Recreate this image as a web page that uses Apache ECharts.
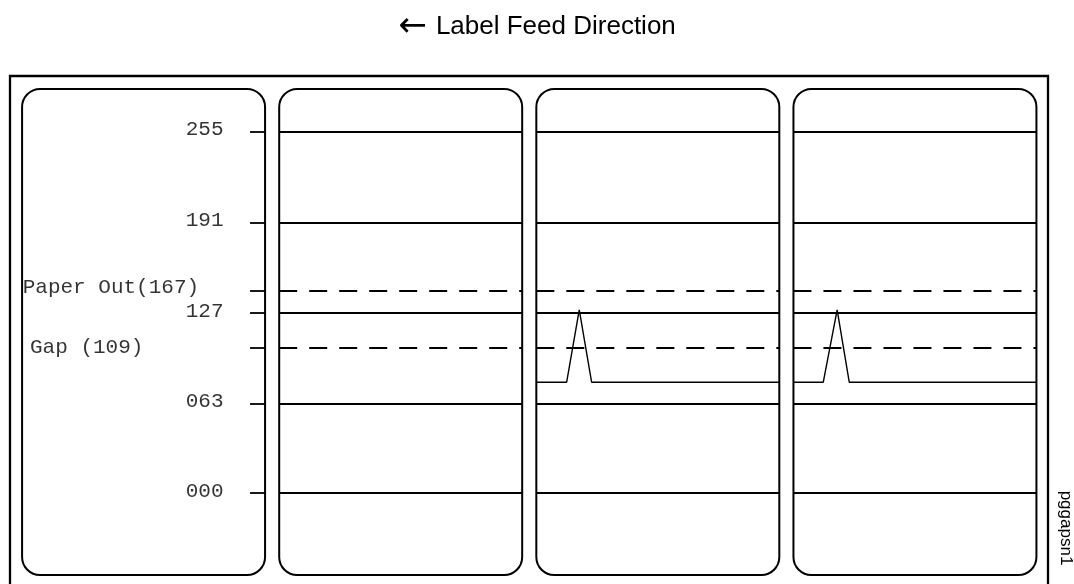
<!DOCTYPE html>
<html>
<head>
<meta charset="utf-8">
<script src="https://cdn.jsdelivr.net/npm/echarts@6/dist/echarts.min.js"></script>
<style>html,body{margin:0;padding:0;background:#fff}#chart{width:1074px;height:584px}</style>
</head>
<body>
<div id="chart"></div>
<script>
// ---- data (schematic units) ----
const levelLabels = ['255', '191', '127', '063', '000'];
const levelValues = [255, 191, 127, 63, 0];
const thresholdLabels = ['Paper Out(167)', 'Gap (109)'];
const thresholdValues = [142.6, 102.5];          // schematic drawing position of each threshold
const panelStart = [0, 100, 200, 300];            // four labels along the feed
const signal3X = [200, 211.8, 216.7, 221.5, 294.5];
const signal3Y = [78.2, 78.2, 129.2, 78.2, 78.2];
const signal4X = [300, 311.6, 317, 321.7, 394.5];
const signal4Y = [78.2, 78.2, 129.2, 78.2, 78.2];

// ---- layout constants ----
const PANEL_W = 94.5, PANEL_TOP = 285.1, PANEL_BOTTOM = -57.9;
const STUB_START = 88.65;
const NUM_LABEL_X = 78.34, PAPER_LABEL_X = 0.24, GAP_LABEL_X = 3.08;

function segmentsFor(y) {
  const segs = [{ coords: [[STUB_START, y], [panelStart[0] + PANEL_W, y]] }];
  for (let i = 1; i < panelStart.length; i++) {
    segs.push({ coords: [[panelStart[i], y], [panelStart[i] + PANEL_W, y]] });
  }
  return segs;
}
const solidSegs = [].concat(...levelValues.map(segmentsFor));
const dashSegs = [].concat(...thresholdValues.map(segmentsFor));

const monoFont = { fontFamily: 'Liberation Mono', fontSize: 21, color: '#000' };

const chart = echarts.init(document.getElementById('chart'), null, { renderer: 'canvas' });
chart.setOption({
  animation: false,
  backgroundColor: '#fff',
  title: {
    text: '{a|\u2190} Label Feed Direction',
    left: 'center', top: 5,
    textStyle: {
      fontFamily: 'Liberation Sans', fontSize: 26, fontWeight: 'normal', color: '#000',
      rich: { a: { fontFamily: 'DejaVu Sans', fontSize: 34, color: '#000', padding: [0, 2, 0, 0] } }
    }
  },
  grid: { left: 10, right: 26, top: 76, bottom: 0, show: false },
  xAxis: { type: 'value', min: -4.7, max: 399, show: false },
  yAxis: { type: 'value', min: -64.2, max: 294.3, show: false },
  series: [
    {
      type: 'custom', clip: false, silent: true, z: 2,
      data: panelStart.map(x => [x, PANEL_TOP]),
      renderItem: function (params, api) {
        const x0 = api.value(0);
        const p0 = api.coord([x0, PANEL_TOP]);
        const p1 = api.coord([x0 + PANEL_W, PANEL_BOTTOM]);
        return {
          type: 'rect',
          shape: { x: p0[0], y: p0[1], width: p1[0] - p0[0], height: p1[1] - p0[1], r: 18 },
          style: { fill: 'none', stroke: '#000', lineWidth: 2 }
        };
      }
    },
    {
      type: 'lines', coordinateSystem: 'cartesian2d', silent: true, z: 3,
      data: solidSegs,
      lineStyle: { color: '#000', width: 1.8, opacity: 1, type: 'solid' }
    },
    {
      type: 'lines', coordinateSystem: 'cartesian2d', silent: true, z: 3,
      data: dashSegs,
      lineStyle: { color: '#000', width: 1.8, opacity: 1, type: [18, 12] }
    },
    {
      type: 'line', silent: true, z: 4, showSymbol: false, symbol: 'none',
      data: signal3X.map((x, i) => [x, signal3Y[i]]),
      lineStyle: { color: '#000', width: 1.4 }
    },
    {
      type: 'line', silent: true, z: 4, showSymbol: false, symbol: 'none',
      data: signal4X.map((x, i) => [x, signal4Y[i]]),
      lineStyle: { color: '#000', width: 1.4 }
    },
    {
      type: 'scatter', silent: true, symbolSize: 0, z: 5,
      data: levelValues.map((v, i) => [NUM_LABEL_X, v, levelLabels[i]]),
      label: { show: true, position: 'left', distance: 0, offset: [0, -2], formatter: p => p.data[2], ...monoFont }
    },
    {
      type: 'scatter', silent: true, symbolSize: 0, z: 5,
      data: [[PAPER_LABEL_X, thresholdValues[0], thresholdLabels[0]]],
      label: { show: true, position: 'right', distance: 0, offset: [0, -3.5], formatter: p => p.data[2], ...monoFont }
    },
    {
      type: 'scatter', silent: true, symbolSize: 0, z: 5,
      data: [[GAP_LABEL_X, thresholdValues[1], thresholdLabels[1]]],
      label: { show: true, position: 'right', distance: 0, offset: [0, 0], formatter: p => p.data[2], ...monoFont }
    }
  ],
  graphic: [
    {
      type: 'rect', silent: true, z: 1,
      shape: { x: 10, y: 76, width: 1038, height: 530 },
      style: { fill: 'none', stroke: '#000', lineWidth: 2.3 }
    },
    {
      type: 'text', x: 1065.5, y: 528, rotation: -Math.PI / 2, silent: true,
      style: { text: 'pggapsn1', fontFamily: 'Liberation Sans', fontSize: 17, fill: '#000', align: 'center', verticalAlign: 'middle' }
    }
  ]
});
</script>
</body>
</html>
